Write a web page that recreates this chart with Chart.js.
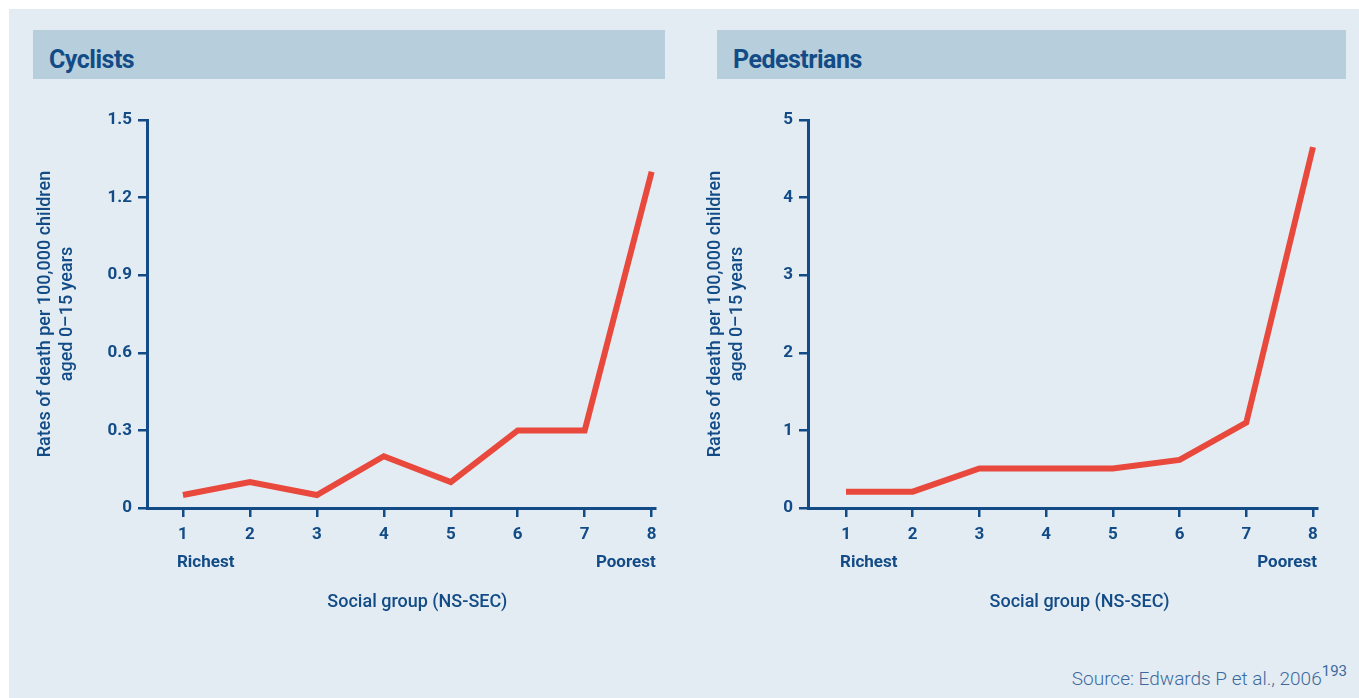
<!DOCTYPE html>
<html>
<head>
<meta charset="utf-8">
<script src="https://cdn.jsdelivr.net/npm/chart.js@4"></script>
<style>
  body { margin: 0; background: #fff; width: 1359px; height: 698px; overflow: hidden; font-family: Roboto, "Open Sans", sans-serif; }
  .panel { position: absolute; left: 9px; top: 9px; width: 1350px; height: 689px; background: #e3ecf2; }
  .bar { position: absolute; top: 30px; height: 49px; background: #b7cfdc; color: #124b86; font-weight: bold; font-size: 25px; line-height: 60px; padding-left: 16px; box-sizing: border-box; letter-spacing: -0.5px; }
  .box { position: absolute; top: 100px; width: 660px; height: 540px; }
  .source { position: absolute; right: 12px; top: 664px; color: #3c6a9e; font-size: 19px; font-weight: 300; }
  .source sup { font-size: 15px; font-weight: 400; position: relative; top: -2px; }
</style>
</head>
<body>
<div class="panel"></div>
<div class="bar" style="left:33px;width:632px;">Cyclists</div>
<div class="bar" style="left:717px;width:629px;">Pedestrians</div>
<div class="box" style="left:20px;"><canvas id="cyclists"></canvas></div>
<div class="box" style="left:690px;"><canvas id="pedestrians"></canvas></div>
<div class="source">Source: Edwards P et al., 2006<sup>193</sup></div>
<script>
const groups = [1, 2, 3, 4, 5, 6, 7, 8];
const cyclistRates = [0.05, 0.1, 0.05, 0.2, 0.1, 0.3, 0.3, 1.3];
const pedestrianRates = [0.21, 0.21, 0.51, 0.51, 0.51, 0.62, 1.1, 4.65];
const cyclistTicks = [0, 0.3, 0.6, 0.9, 1.2, 1.5];
const pedestrianTicks = [0, 1, 2, 3, 4, 5];
const yTitle = ["Rates of death per 100,000 children", "aged 0\u201315 years"];
const xTitle = "Social group (NS-SEC)";
const endLabels = ["Richest", "Poorest"];

const ink = "#124b86";
const red = "#e9493d";
const fam = 'Roboto, "Open Sans", sans-serif';

const extraLabels = {
    id: "extraLabels",
    afterDraw(chart) {
        const x = chart.scales.x;
        const ctx = chart.ctx;
        const p1 = x.getPixelForValue(groups[0]);
        const p8 = x.getPixelForValue(groups[groups.length - 1]);
        ctx.save();
        ctx.fillStyle = ink;
        ctx.textBaseline = "middle";
        ctx.font = "bold 17px " + fam;
        ctx.textAlign = "left";
        ctx.fillText(endLabels[0], p1 - 6, x.top + 55);
        ctx.textAlign = "right";
        ctx.fillText(endLabels[1], p8 + 4, x.top + 55);
        ctx.font = "500 18px " + fam;
        ctx.textAlign = "center";
        ctx.fillText(xTitle, (p1 + p8) / 2, x.top + 94);
        ctx.restore();
    },
};

function makeChart(id, rates, yTicks, xMin, xMax, yWidth, rightPad) {
    new Chart(document.getElementById(id), {
        type: "line",
        data: {
            datasets: [
                {
                    data: groups.map((g, i) => ({ x: g, y: rates[i] })),
                    borderColor: red,
                    borderWidth: 6,
                    pointRadius: 0,
                    tension: 0,
                },
            ],
        },
        options: {
            responsive: true,
            maintainAspectRatio: false,
            animation: false,
            layout: { padding: { left: 0, top: 20, right: rightPad, bottom: 0 } },
            plugins: {
                legend: { display: false },
                tooltip: { enabled: false },
            },
            scales: {
                x: {
                    type: "linear",
                    min: xMin,
                    max: xMax,
                    afterBuildTicks: (s) => { s.ticks = groups.map((v) => ({ value: v })); },
                    afterFit: (s) => { s.height = 132; },
                    grid: { drawOnChartArea: false, color: ink, lineWidth: 2.5, tickLength: 9 },
                    border: { color: ink, width: 3 },
                    ticks: { color: ink, font: { family: fam, size: 17, weight: "bold" }, padding: 8, maxRotation: 0 },
                },
                y: {
                    min: yTicks[0],
                    max: yTicks[yTicks.length - 1],
                    afterBuildTicks: (s) => { s.ticks = yTicks.map((v) => ({ value: v })); },
                    afterFit: (s) => { s.width = yWidth; },
                    grid: { drawOnChartArea: false, color: ink, lineWidth: 2.5, tickLength: 9 },
                    border: { color: ink, width: 3 },
                    ticks: { color: ink, font: { family: fam, size: 17, weight: "bold" }, padding: 6, callback: (v) => String(v) },
                    title: {
                        display: true,
                        text: yTitle,
                        color: ink,
                        font: { family: fam, size: 18, weight: "500" },
                        padding: { top: 15, bottom: 0 },
                    },
                },
            },
        },
        plugins: [extraLabels],
    });
}

makeChart("cyclists", cyclistRates, cyclistTicks, 0.463, 8.05, 127, 25);
makeChart("pedestrians", pedestrianRates, pedestrianTicks, 0.43, 8.06, 118, 33);
</script>
</body>
</html>
